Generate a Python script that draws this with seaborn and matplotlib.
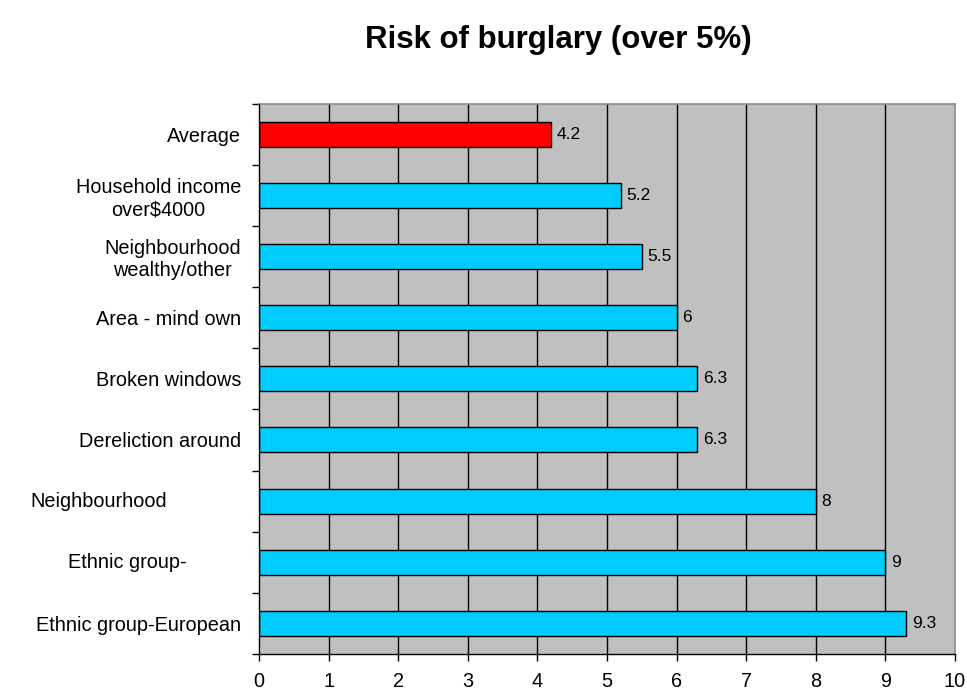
import matplotlib
matplotlib.use("Agg")
import matplotlib.pyplot as plt
import seaborn as sns
import pandas as pd
import numpy as np

categories = ["Average", "Household income\nover$4000", "Neighbourhood\nwealthy/other",
              "Area - mind own", "Broken windows", "Dereliction around",
              "Neighbourhood", "Ethnic group-", "Ethnic group-European"]
values = [4.2, 5.2, 5.5, 6, 6.3, 6.3, 8, 9, 9.3]
bar_colors = ["#FF0000"] + ["#00CCFF"] * 8
x_ticks = list(range(0, 11))
title = "Risk of burglary (over 5%)"

sns.set_theme(style="white")
plt.rcParams['font.family'] = ['Liberation Sans', 'DejaVu Sans']

df = pd.DataFrame({"category": categories, "value": values})

fig = plt.figure(figsize=(9.67, 6.92), dpi=100)
ax = fig.add_axes([259/967, 1-654/692, (955-259)/967, (654-103.5)/692])
ax.set_facecolor("#C0C0C0")

sns.barplot(data=df, y="category", x="value", hue="category", palette=bar_colors,
            order=categories, hue_order=categories, orient="h", width=0.41,
            saturation=1, edgecolor="black", linewidth=1.0, legend=False, ax=ax, zorder=3)

ax.set_xlim(0, 10)
ax.set_ylim(len(categories) - 0.5, -0.5)
ax.set_xticks(x_ticks)
ax.set_xticklabels([str(t) for t in x_ticks], fontsize=14.3)
ax.set_xlabel("")
ax.set_ylabel("")

# vertical gridlines
for t in x_ticks[1:-1]:
    ax.axvline(t, color="black", lw=1.0, zorder=1)

# y labels
special = {"Neighbourhood": -0.2299, "Ethnic group-": -0.1897}
ticklabels = [("" if c in special else c) for c in categories]
ax.set_yticks(range(len(categories)))
ax.set_yticklabels(ticklabels, fontsize=14.3, ha="right", multialignment="center")
for i, c in enumerate(categories):
    if c in special:
        ax.text(special[c], i, c, transform=ax.get_yaxis_transform(), ha="center",
                va="center", fontsize=14.3, color="#000000")
ax.tick_params(axis="y", which="major", length=0, pad=13, colors="black")
ax.set_yticks(np.arange(-0.5, len(categories), 1.0), minor=True)
ax.tick_params(axis="y", which="minor", length=5, width=1, direction="out", color="black", left=True)
ax.tick_params(axis="x", which="major", length=5, width=1, direction="out", color="black",
               bottom=True, pad=8, labelcolor="black", labelsize=14.3)

for sp in ["top", "right"]:
    ax.spines[sp].set_color("#8c8c8c")
    ax.spines[sp].set_linewidth(1.2)
for sp in ["left", "bottom"]:
    ax.spines[sp].set_color("black")
    ax.spines[sp].set_linewidth(1.0)
    ax.spines[sp].set_zorder(4)

for cont in ax.containers:
    ax.bar_label(cont, labels=[f"{v:g}" for v in cont.datavalues], padding=4,
                 fontsize=12.5, color="black")

fig.text(558/967, 1-40/692, title, ha="center", va="center", fontsize=22.5,
         fontweight="bold", color="black")

fig.savefig("out.png", dpi=100)
